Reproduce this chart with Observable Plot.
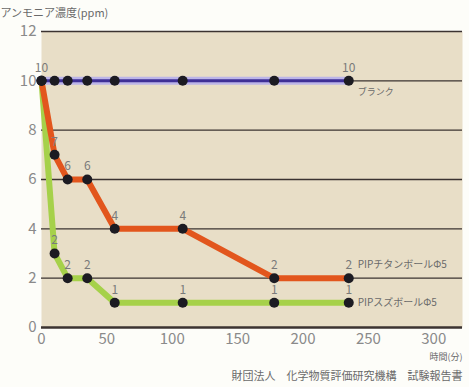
<!DOCTYPE html>
<html>
<head>
<meta charset="utf-8">
<script src="https://cdn.jsdelivr.net/npm/d3@7"></script>
<script src="https://cdn.jsdelivr.net/npm/@observablehq/plot@0.6"></script>
<style>
  html, body { margin: 0; padding: 0; background: #fdfdf9; }
  #chart svg { display: block; }
</style>
</head>
<body>
<div id="chart"></div>
<script>
const times = [0, 10, 20, 35, 56, 108, 178, 235];
const blank = [10, 10, 10, 10, 10, 10, 10, 10];
const titan = [10, 7, 6, 6, 4, 4, 2, 2];
const tin = [10, 3, 2, 2, 1, 1, 1, 1];
const blankLabels = ["10", "", "", "", "", "", "", "10"];
const titanLabels = ["", "7", "6", "6", "4", "4", "2", "2"];
const tinLabels = ["", "2", "2", "2", "1", "1", "1", "1"];
const seriesNames = ["ブランク", "PIPチタンボールΦ5", "PIPスズボールΦ5"];
const xTicks = [0, 50, 100, 150, 200, 250, 300];
const yTicks = [0, 2, 4, 6, 8, 10, 12];
const gridValues = [2, 4, 6, 8, 10, 12];
const yTitle = "アンモニア濃度(ppm)";
const xTitle = "時間(分)";
const caption = "財団法人　化学物質評価研究機構　試験報告書";

const mk = (vals, labels) => times.map((t, i) => ({t, v: vals[i], label: labels[i]}));
const blankData = mk(blank, blankLabels);
const titanData = mk(titan, titanLabels);
const tinData = mk(tin, tinLabels);
const allPoints = [...tinData, ...titanData, ...blankData];
const allLabels = allPoints.filter(d => d.label !== "");
const last = times.length - 1;
const endOf = (vals, name) => [{t: times[last], v: vals[last], name}];

const font = "'Noto Sans CJK JP', 'Noto Sans', sans-serif";
const endStyle = {x: "t", y: "v", text: "name", dx: 9, textAnchor: "start", lineAnchor: "middle", fontSize: 10, fill: "#6a6a6a"};

const chart = Plot.plot({
  width: 469,
  height: 387,
  marginLeft: 41,
  marginRight: 7,
  marginTop: 31,
  marginBottom: 60,
  style: {background: "#fdfdf9", fontFamily: font},
  x: {domain: [0, 322]},
  y: {domain: [0, 12]},
  marks: [
    Plot.frame({fill: "#e8dec7", stroke: null}),
    Plot.ruleY(gridValues, {stroke: "#3b3331", strokeWidth: 1.3}),
    Plot.ruleY([0], {stroke: "#3b3331", strokeWidth: 2.5}),
    Plot.axisX({ticks: xTicks, tickSize: 0, tickPadding: 6, fontSize: 15, color: "#8a8a8a", label: null}),
    Plot.axisY({ticks: yTicks, tickSize: 0, tickPadding: 5, fontSize: 15, color: "#8a8a8a", label: null}),
    Plot.line(tinData, {x: "t", y: "v", stroke: "#a6d14a", strokeWidth: 6}),
    Plot.line(titanData, {x: "t", y: "v", stroke: "#e2561d", strokeWidth: 6}),
    Plot.line(blankData, {x: "t", y: "v", stroke: "#bcb5e8", strokeWidth: 8}),
    Plot.line(blankData, {x: "t", y: "v", stroke: "#3e2f96", strokeWidth: 3}),
    Plot.dot(allPoints, {x: "t", y: "v", r: 5, fill: "#1c1b22", stroke: null}),
    Plot.text(allLabels, {x: "t", y: "v", text: "label", dy: -13, fontSize: 12, fill: "#7a7a7a"}),
    Plot.text(endOf(blank, seriesNames[0]), {...endStyle, fontSize: 9, dy: 11}),
    Plot.text(endOf(titan, seriesNames[1]), {...endStyle, dy: -13}),
    Plot.text(endOf(tin, seriesNames[2]), {...endStyle, dy: 0}),
    Plot.text([yTitle], {frameAnchor: "top-left", dx: -41, dy: -18, textAnchor: "start", lineAnchor: "middle", fontSize: 11, fill: "#6a6a6a"}),
    Plot.text([xTitle], {frameAnchor: "bottom-right", dx: 0, dy: 30, textAnchor: "end", lineAnchor: "middle", fontSize: 9, fill: "#6a6a6a"}),
    Plot.text([caption], {frameAnchor: "bottom-right", dx: 0, dy: 49, textAnchor: "end", lineAnchor: "middle", fontSize: 11, fill: "#6a6a6a"})
  ]
});
document.getElementById("chart").appendChild(chart);
</script>
</body>
</html>
